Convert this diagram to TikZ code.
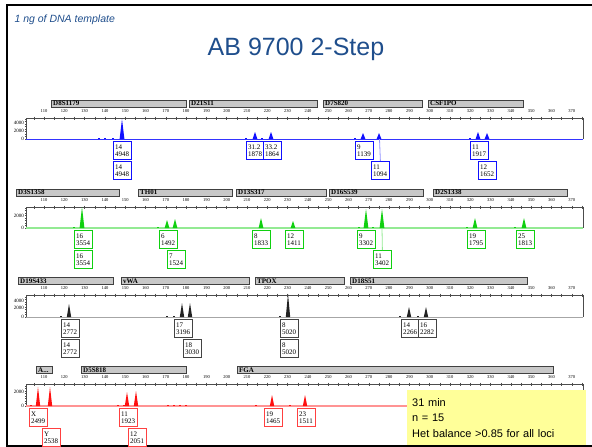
\documentclass[tikz,border=0pt]{standalone}
\usepackage{fontspec}
\setmainfont{Liberation Sans}
\newfontfamily\gmfont{Liberation Serif}
\usetikzlibrary{calc}
\definecolor{titleblue}{HTML}{1F4E8C}
\definecolor{noteyellow}{HTML}{FFFF99}
\definecolor{barfill}{HTML}{C8C8C8}
\definecolor{bluedye}{HTML}{1010FF}
\definecolor{greendye}{HTML}{10D010}
\definecolor{blackdye}{HTML}{222222}
\definecolor{reddye}{HTML}{FF1010}
\newcommand{\amellbl}{A...}

\begin{document}
\begin{tikzpicture}[x=1pt,y=-1pt,
  axisline/.style={draw=gray!60!black,line width=0.5pt},
  sizelbl/.style={font=\gmfont\fontsize{4.5}{4.5}\selectfont,inner sep=0pt},
  ylbl/.style={font=\gmfont\fontsize{5}{5}\selectfont,inner sep=0pt,anchor=east},
  locusbar/.style={draw=gray!50!black,fill=barfill,line width=0.6pt},
  locuslbl/.style={font=\gmfont\fontsize{7}{7}\selectfont\bfseries,inner sep=0pt,anchor=west},
  allele/.style={draw=#1,line width=1.3pt,fill=white,anchor=north west,inner sep=1.5pt,
    text width=14.5pt,minimum height=18pt,align=left,font=\gmfont\fontsize{7}{7.2}\selectfont},
  note/.style={fill=noteyellow,anchor=north west,text width=169pt,minimum height=55pt,
    inner xsep=5pt,align=left,font=\fontsize{11}{15.5}\selectfont}]
\useasboundingbox (0,0) rectangle (592,447);
% slide frame and titles
\draw[line width=2.2pt] (7,5) -- (7,446) (6,5) -- (600,5) (6,446) -- (600,446);
\node[anchor=west,text=titleblue,font=\itshape\fontsize{10.5}{12}\selectfont] (tmpl) at (11,20) {1 ng of DNA template};
\node[text=titleblue,font=\fontsize{25}{28}\selectfont] (title) at (296,49) {AB 9700 2-Step};

% locus bars
\foreach \nm/\lbl/\xa/\xb/\yc in {
  D8S1179/D8S1179/51/186/103.5, D21S11/D21S11/189/317/103.5, D7S820/D7S820/323/422/103.5, CSF1PO/CSF1PO/428/523/103.5,
  D3S1358/D3S1358/16/119/192.5, TH01/TH01/138/232/192.5, D13S317/D13S317/236/326/192.5, D16S539/D16S539/329/423/192.5, D2S1338/D2S1338/433/567/192.5,
  D19S433/D19S433/18/113/281, vWA/vWA/121/249/281, TPOX/TPOX/255/344/281, D18S51/D18S51/350/527/281,
  AMEL/\amellbl/36/52/370, D5S818/D5S818/81/186/370, FGA/FGA/237/553/370}
{
  \draw[locusbar] (\xa,\yc-3.5) rectangle (\xb,\yc+3.5);
  \node[locuslbl] (\nm) at (\xa+2,\yc) {\lbl};
}

% rulers and baselines
\foreach \pn/\ay/\by/\base/\bw in {pa/118/139/bluedye!85/0.8pt, pb/207/228/greendye!45/1.6pt, pc/295/317/gray!70/0.6pt, pd/384/406/reddye!45/1.3pt}
{
  \draw[axisline] (26,\by) -- (26,\ay) -- (583,\ay) -- (583,\by);
  \foreach \b in {105,110,...,375}
    \draw[axisline] ({44+(\b-110)*2.03},\ay-1.5) -- ++(0,3);
  \foreach \b in {110,120,...,370}
    \node[sizelbl] (\pn\b) at ({44+(\b-110)*2.03},\ay-7) {\b};
  \foreach \t in {0,2.5,...,20}
    \draw[axisline] (26,\by-\t) -- ++(-1.5,0);
  \draw[\base,line width=\bw] (26,\by) -- (583,\by);
  \node[ylbl] (\pn0) at (24,\by) {0};
}
\node[ylbl] (pa4k) at (24,123) {4000};
\node[ylbl] (pa2k) at (24,131) {2000};
\node[ylbl] (pb2k) at (24,216) {2000};
\node[ylbl] (pc4k) at (24,301) {4000};
\node[ylbl] (pc2k) at (24,308) {2000};
\node[ylbl] (pd2k) at (24,392) {2000};

% blue dye
\foreach \px/\pt in {122/119,255/132,271/132,363/133,379/133,478/132,487/133}
  \fill[bluedye] (\px-2.4,139) -- (\px,\pt) -- (\px+2.4,139) -- cycle;
\foreach \px in {99,105,113,246,262,355,470}
  \fill[bluedye] (\px-1.2,139) rectangle (\px+1.2,137.6);
\node[allele=bluedye] (b14a) at (113,141) {14\\4948};
\node[allele=bluedye] (b14b) at (113,161) {14\\4948};
\node[allele=bluedye] (b312) at (246,141) {31.2\\1878};
\node[allele=bluedye] (b332) at (263,141) {33.2\\1864};
\node[allele=bluedye] (b9) at (355,141) {9\\1139};
\node[allele=bluedye] (b11) at (371,161) {11\\1094};
\node[allele=bluedye] (c11) at (470,141) {11\\1917};
\node[allele=bluedye] (c12) at (478,161) {12\\1652};
\coordinate (bpk) at (379.5,139);
\draw[bluedye!45,line width=0.8pt] (bpk) -- (b11.north);

% green dye
\foreach \px/\pt in {82/207,167/220,175/219,261/218,293/221,366/209,382/209,475/218,524/218}
  \fill[greendye] (\px-2.4,228) -- (\px,\pt) -- (\px+2.4,228) -- cycle;
\foreach \px in {74,158,359,373,467,515}
  \fill[greendye] (\px-1.2,228) rectangle (\px+1.2,226.6);
\node[allele=greendye] (g16a) at (74,230) {16\\3554};
\node[allele=greendye] (g16b) at (74,250) {16\\3554};
\node[allele=greendye] (g6) at (159,230) {6\\1492};
\node[allele=greendye] (g7) at (167,250) {7\\1524};
\node[allele=greendye] (g8) at (252,230) {8\\1833};
\node[allele=greendye] (g12) at (285,230) {12\\1411};
\node[allele=greendye] (g9) at (357,230) {9\\3302};
\node[allele=greendye] (g11) at (373,250) {11\\3402};
\node[allele=greendye] (g19) at (467,230) {19\\1795};
\node[allele=greendye] (g25) at (516,230) {25\\1813};
\coordinate (gpk) at (382,228);
\draw[greendye!45,line width=0.8pt] (gpk) -- (g11.north);

% black dye
\foreach \px/\pt in {69/304,182/303,190/303,288/294,409/307,426/307}
  \fill[blackdye] (\px-2.2,317) -- (\px,\pt) -- (\px+2.2,317) -- cycle;
\foreach \px in {61,167,174,280,400,418}
  \fill[blackdye] (\px-1.2,317) rectangle (\px+1.2,315.8);
\node[allele=blackdye!85] (k14a) at (61,319) {14\\2772};
\node[allele=blackdye!85] (k14b) at (61,339) {14\\2772};
\node[allele=blackdye!85] (k17) at (174,319) {17\\3196};
\node[allele=blackdye!85] (k18) at (183,339) {18\\3030};
\node[allele=blackdye!85] (k8a) at (280,319) {8\\5020};
\node[allele=blackdye!85] (k8b) at (280,339) {8\\5020};
\node[allele=blackdye!85] (k14c) at (401,319) {14\\2266};
\node[allele=blackdye!85] (k16) at (418,319) {16\\2282};

% red dye
\foreach \px/\pt in {38/387,50/387,127/392,136/391,272/395,305/395}
  \fill[reddye] (\px-2.2,406) -- (\px,\pt) -- (\px+2.2,406) -- cycle;
\foreach \px in {31,118,124,168,174,180,186,256,290}
  \fill[reddye] (\px-1.2,406) rectangle (\px+1.2,404.8);
\node[allele=reddye!80] (rX) at (29,408) {X\\2499};
\node[allele=reddye!80] (rY) at (42,428) {Y\\2538};
\node[allele=reddye!80] (r11) at (119,408) {11\\1923};
\node[allele=reddye!80] (r12) at (128,428) {12\\2051};
\node[allele=reddye!80] (r19) at (264,408) {19\\1465};
\node[allele=reddye!80] (r23) at (297,408) {23\\1511};

% run summary
\node[note] (summary) at (407,390) {31 min\\n = 15\\Het balance >0.85 for all loci};
\end{tikzpicture}
\end{document}
